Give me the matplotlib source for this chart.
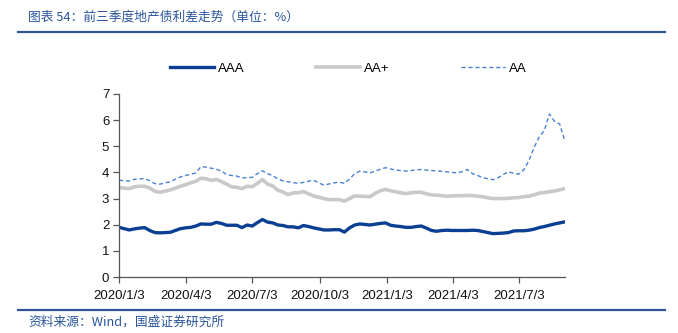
import matplotlib
matplotlib.use("Agg")
import matplotlib.pyplot as plt
import matplotlib.dates as mdates
import pandas as pd
from matplotlib.lines import Line2D

plt.rcParams['font.family'] = ['Liberation Sans', 'Noto Sans CJK SC', 'DejaVu Sans']

start_date = "2020-01-03"
n_weeks = 88

aaa = [1.90, 1.85, 1.80, 1.84, 1.87, 1.89, 1.78, 1.70, 1.69, 1.70,
       1.71, 1.78, 1.85, 1.88, 1.90, 1.95, 2.03, 2.02, 2.02, 2.09,
       2.05, 1.98, 1.98, 1.98, 1.89, 1.99, 1.95, 2.08, 2.20, 2.10,
       2.07, 1.99, 1.97, 1.92, 1.92, 1.88, 1.97, 1.93, 1.88, 1.84,
       1.80, 1.80, 1.81, 1.81, 1.72, 1.88, 1.99, 2.03, 2.01, 1.99,
       2.02, 2.05, 2.07, 1.98, 1.95, 1.93, 1.90, 1.90, 1.93, 1.95,
       1.87, 1.78, 1.75, 1.78, 1.79, 1.78, 1.78, 1.78, 1.78, 1.79,
       1.78, 1.74, 1.70, 1.66, 1.67, 1.68, 1.70, 1.76, 1.77, 1.77,
       1.79, 1.83, 1.89, 1.93, 1.98, 2.03, 2.07, 2.11]

aa_plus = [3.42, 3.40, 3.38, 3.45, 3.47, 3.47, 3.40, 3.28, 3.24, 3.28,
           3.33, 3.40, 3.47, 3.53, 3.60, 3.66, 3.78, 3.75, 3.70, 3.73,
           3.65, 3.55, 3.45, 3.43, 3.38, 3.47, 3.45, 3.58, 3.73, 3.55,
           3.48, 3.32, 3.25, 3.15, 3.22, 3.22, 3.27, 3.18, 3.10, 3.05,
           3.00, 2.96, 2.96, 2.96, 2.90, 3.00, 3.10, 3.09, 3.08, 3.07,
           3.20, 3.30, 3.35, 3.30, 3.26, 3.22, 3.19, 3.22, 3.24, 3.24,
           3.18, 3.14, 3.13, 3.11, 3.09, 3.10, 3.11, 3.11, 3.12, 3.11,
           3.09, 3.07, 3.03, 3.00, 3.00, 3.00, 3.01, 3.03, 3.04, 3.07,
           3.09, 3.14, 3.21, 3.23, 3.26, 3.29, 3.33, 3.38]

aa = [3.70, 3.68, 3.67, 3.74, 3.75, 3.77, 3.68, 3.57, 3.55, 3.60,
      3.64, 3.74, 3.83, 3.88, 3.93, 3.98, 4.22, 4.20, 4.16, 4.12,
      4.05, 3.92, 3.88, 3.86, 3.79, 3.80, 3.81, 3.95, 4.06, 3.95,
      3.88, 3.75, 3.68, 3.64, 3.61, 3.58, 3.62, 3.66, 3.70, 3.60,
      3.51, 3.56, 3.60, 3.63, 3.58, 3.75, 3.95, 4.05, 4.02, 3.98,
      4.05, 4.12, 4.18, 4.13, 4.09, 4.07, 4.05, 4.07, 4.10, 4.11,
      4.09, 4.07, 4.06, 4.04, 4.02, 4.00, 3.98, 4.03, 4.11, 3.95,
      3.88, 3.80, 3.76, 3.72, 3.80, 3.92, 4.02, 3.97, 3.93, 4.10,
      4.45, 4.95, 5.35, 5.60, 6.23, 5.95, 5.85, 5.21]

series_names = ["AAA", "AA+", "AA"]
tick_dates = ["2020-01-03", "2020-04-03", "2020-07-03", "2020-10-03",
              "2021-01-03", "2021-04-03", "2021-07-03"]
tick_labels = ["2020/1/3", "2020/4/3", "2020/7/3", "2020/10/3",
               "2021/1/3", "2021/4/3", "2021/7/3"]
y_ticks = [0, 1, 2, 3, 4, 5, 6, 7]

title = "图表 54：前三季度地产债利差走势（单位：%）"
source = "资料来源：Wind，国盛证券研究所"

dates = pd.date_range(start_date, periods=n_weeks, freq="7D")

fig = plt.figure(figsize=(6.78, 3.33), dpi=100)
ax = fig.add_axes([0.1755, 0.168, 0.6575, 0.55])

c_aaa = "#0B3F93"
c_aap = "#C9C9C9"
c_aa = "#4A80D3"

ax.plot(dates, aa_plus, color=c_aap, lw=2.6, solid_capstyle="round")
ax.plot(dates, aaa, color=c_aaa, lw=2.4, solid_capstyle="round")
ax.plot(dates, aa, color=c_aa, lw=1.0, ls=(0, (3, 2)))

ax.set_xlim(dates[0], dates[-1])
ax.set_ylim(0, 7)
ax.set_yticks(y_ticks)
ax.set_xticks(pd.to_datetime(tick_dates))
ax.set_xticklabels(tick_labels)
for s in ["top", "right"]:
    ax.spines[s].set_visible(False)
for s in ["left", "bottom"]:
    ax.spines[s].set_color("#555555")
    ax.spines[s].set_linewidth(0.9)
ax.tick_params(axis="both", direction="out", length=4, width=0.9,
               color="#555555", labelsize=9.5, labelcolor="#111111", pad=3)
ax.tick_params(axis="x", pad=5)

handles = [Line2D([], [], color=c_aaa, lw=2.4),
           Line2D([], [], color=c_aap, lw=2.6),
           Line2D([], [], color=c_aa, lw=1.0, ls=(0, (3, 2)))]
fig.legend(handles, series_names, loc="center", bbox_to_anchor=(0.514, 0.793),
           ncol=3, frameon=False, fontsize=9.5, handlelength=3.3,
           handletextpad=0.35, columnspacing=5.4)

title_color = "#2A559C"
fig.text(28 / 678, 1 - 17 / 333, title, color=title_color, fontsize=9.2,
         va="center", ha="left", family=['Noto Sans CJK SC', 'DejaVu Sans'])
fig.add_artist(Line2D([18 / 678, 665 / 678], [1 - 32 / 333, 1 - 32 / 333],
                      color="#2F5597", lw=1.6, transform=fig.transFigure))
fig.add_artist(Line2D([18 / 678, 665 / 678], [1 - 310 / 333, 1 - 310 / 333],
                      color="#2F5597", lw=1.6, transform=fig.transFigure))
fig.text(28 / 678, 1 - 322 / 333, source, color=title_color, fontsize=9.2,
         va="center", ha="left", family=['Noto Sans CJK SC', 'DejaVu Sans'])

fig.savefig("out.png", dpi=100)
